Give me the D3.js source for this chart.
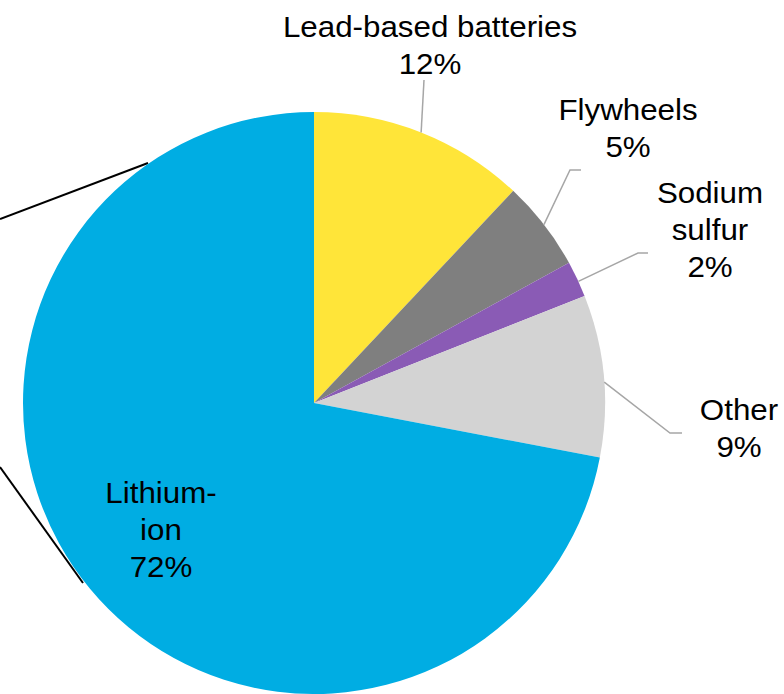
<!DOCTYPE html>
<html><head><meta charset="utf-8">
<script src="https://cdn.jsdelivr.net/npm/d3@7"></script>
<style>html,body{margin:0;padding:0;background:#fff;overflow:hidden}</style>
</head><body>
<svg id="chart" width="784" height="694"></svg>
<script>
// ---- data ----
const categories = ["Lead-based batteries", "Flywheels", "Sodium sulfur", "Other", "Lithium-ion"];
const values = [12, 5, 2, 9, 72];
const labelLines = [["Lead-based batteries", "12%"], ["Flywheels", "5%"], ["Sodium", "sulfur", "2%"], ["Other", "9%"], ["Lithium-", "ion", "72%"]];
const colors = ["#FFE539", "#7F7F7F", "#8A5BB5", "#D3D3D3", "#00ADE3"];

// ---- layout ----
const W = 784, H = 694;
const cx = 314, cy = 403, R = 291;
const svg = d3.select("#chart");

// connector lines to an (offscreen) secondary chart
svg.append("line").attr("x1", 0).attr("y1", 219).attr("x2", 148).attr("y2", 163)
  .attr("stroke", "#000").attr("stroke-width", 2);
svg.append("line").attr("x1", 0).attr("y1", 467).attr("x2", 83).attr("y2", 583)
  .attr("stroke", "#000").attr("stroke-width", 2);

const pie = d3.pie().sort(null).value(d => d);
const arcs = pie(values);
const arc = d3.arc().innerRadius(0).outerRadius(R);
const g = svg.append("g").attr("transform", `translate(${cx},${cy})`);
g.selectAll("path").data(arcs).enter().append("path")
  .attr("d", arc).attr("fill", (d, i) => colors[i]);

// label placement (layout only)
const labelPos = [
  {x: 430, y: 37, angleOff: 0, elbow: [424, 80], end: null},
  {x: 628, y: 120, angleOff: 0, elbow: [570, 170], end: [581, 170]},
  {x: 710, y: 203, angleOff: 0.5, elbow: [638, 253], end: [648, 253]},
  {x: 739, y: 420, angleOff: 1.3, elbow: [670, 433], end: [682, 433]},
  {x: 161, y: 503, inside: true}
];
const lh = 37;
arcs.forEach((a, i) => {
  const p = labelPos[i];
  if (!p.inside) {
    const ang = (a.startAngle + a.endAngle) / 2 + p.angleOff * Math.PI / 180;
    const sx = cx + R * Math.sin(ang), sy = cy - R * Math.cos(ang);
    const pts = [[sx, sy], p.elbow];
    if (p.end) pts.push(p.end);
    svg.append("path").attr("d", d3.line()(pts))
      .attr("fill", "none").attr("stroke", "#A6A6A6").attr("stroke-width", 1.5);
  }
  labelLines[i].forEach((t, k) => {
    svg.append("text")
      .attr("transform", `translate(${p.x},${p.y + k * lh}) scale(1.08,1)`)
      .attr("text-anchor", "middle")
      .attr("font-family", "Liberation Sans, Arial, sans-serif")
      .attr("font-size", 29)
      .attr("fill", "#000")
      .text(t);
  });
});
</script>
</body></html>
